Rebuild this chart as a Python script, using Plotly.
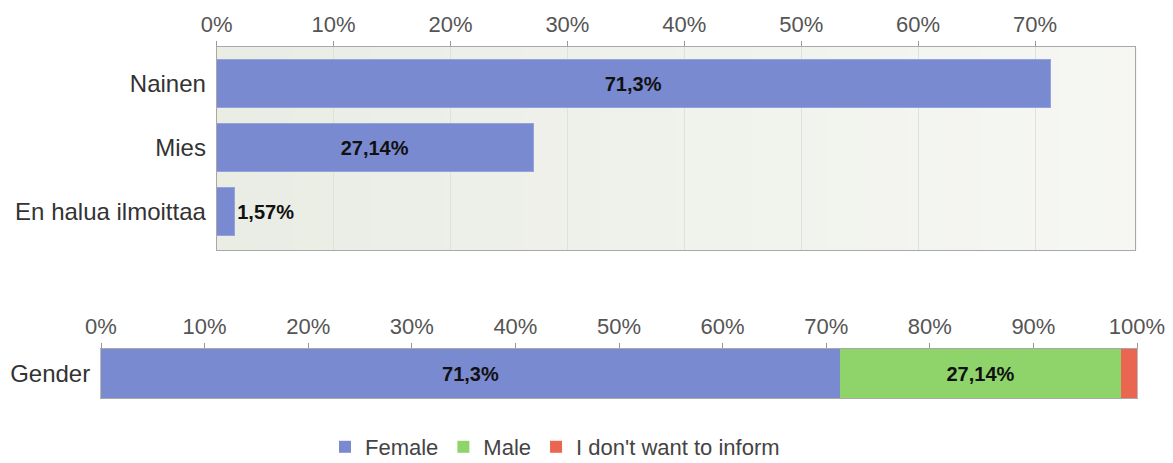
import plotly.graph_objects as go

categories = ["Nainen", "Mies", "En halua ilmoittaa"]
values = [71.3, 27.14, 1.57]
legend_names = ["Female", "Male", "I don't want to inform"]
stack_label = "Gender"
colors = ["#7a8ad0", "#8fd36b", "#ea6650"]
tick_vals = list(range(0, 101, 10))
tick_text = [f"{t}%" for t in tick_vals]

def fmt(v):
    return (f"{v:g}".replace(".", ",")) + "%"

# page has an 8px body margin at top/left; figure reaches the window's right/bottom edge
OFF = 8
W, H = 1173 - OFF, 463 - OFF

def px(x):
    return (x - OFF) / W

def py(y):
    return 1 - (y - OFF) / H

font_family = "Liberation Sans, Arial, sans-serif"
label_font = dict(size=20, color="#111", family=font_family, weight="bold")

fig = go.Figure()

# Top chart
fig.add_trace(go.Bar(
    y=categories, x=values, orientation="h",
    marker=dict(color=colors[0], line=dict(color="#95a2dd", width=1)),
    width=0.75,
    text=[fmt(v) for v in values],
    textposition=["inside", "inside", "outside"],
    insidetextanchor="middle",
    textfont=label_font,
    cliponaxis=False,
    showlegend=False,
    xaxis="x", yaxis="y",
    hoverinfo="skip",
))

# Bottom stacked chart
for i, (name, v) in enumerate(zip(legend_names, values)):
    fig.add_trace(go.Bar(
        y=[stack_label], x=[v], orientation="h", name=name,
        marker=dict(color=colors[i], line=dict(width=0)),
        width=1.0,
        text=[fmt(v) if v > 5 else ""],
        textposition="inside", insidetextanchor="middle",
        textfont=label_font,
        xaxis="x2", yaxis="y2",
        hoverinfo="skip",
    ))

# subtle horizontal background gradient in the top plot area
n_strips = 24
c0 = (0xe9, 0xed, 0xe4)
c1 = (0xf6, 0xf7, 0xf3)
shapes = []
for k in range(n_strips):
    t = k / (n_strips - 1)
    c = tuple(round(a + (b - a) * t) for a, b in zip(c0, c1))
    shapes.append(dict(
        type="rect", xref="x domain", yref="y domain",
        x0=k / n_strips, x1=(k + 1) / n_strips + 0.002, y0=0, y1=1,
        fillcolor="rgb(%d,%d,%d)" % c, line=dict(width=0), layer="below",
    ))

axis_common = dict(
    side="top", tickmode="array", tickvals=tick_vals, ticktext=tick_text,
    tickfont=dict(size=22, color="#555", family=font_family),
    ticks="outside", ticklen=5, tickcolor="#999",
    showline=True, linecolor="#a8a8a8", linewidth=1, mirror=True,
    zeroline=False, fixedrange=True, automargin=False,
    ticklabeloverflow="allow",
)

x0_top, x1_top = 216.7, 1135
px_per_pct = (1035 - 216.7) / 70

fig.update_layout(
    width=W, height=H,
    margin=dict(l=0, r=0, t=0, b=0, autoexpand=False),
    paper_bgcolor="white",
    plot_bgcolor="#eef1ea",
    barmode="stack",
    font=dict(family=font_family, color="#333"),
    shapes=shapes,
    xaxis=dict(domain=[px(x0_top), px(x1_top)], range=[0, (x1_top - x0_top) / px_per_pct],
               anchor="y", showgrid=True, gridcolor="#dfe1db", gridwidth=1, **axis_common),
    yaxis=dict(domain=[py(250), py(47)], anchor="x",
               categoryorder="array", categoryarray=categories[::-1],
               range=[-0.594, 2.578],
               tickfont=dict(size=24, color="#333", family=font_family),
               ticks="", ticklabelstandoff=5,
               showline=True, linecolor="#a8a8a8", mirror=True,
               fixedrange=True, automargin=False),
    xaxis2=dict(domain=[px(101), px(1137)], range=[0, 100], anchor="y2",
                showgrid=False, **axis_common),
    yaxis2=dict(domain=[py(398), py(349)], anchor="x2",
                tickfont=dict(size=24, color="#333", family=font_family),
                ticks="", ticklabelstandoff=5,
                showline=True, linecolor="#bbb", mirror=True,
                fixedrange=True, automargin=False),
    legend=dict(orientation="h", x=px(325), xanchor="left", y=py(468), yanchor="bottom",
                font=dict(size=22, color="#444", family=font_family),
                traceorder="normal", itemwidth=30, borderwidth=0,
                bgcolor="rgba(0,0,0,0)"),
    bargap=0,
)

fig.write_html("out.html")
